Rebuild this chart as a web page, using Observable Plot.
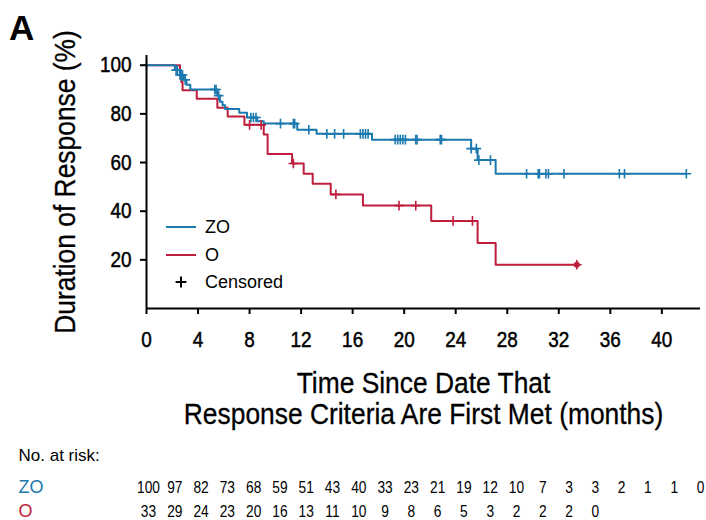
<!DOCTYPE html>
<html><head><meta charset="utf-8">
<script src="https://cdn.jsdelivr.net/npm/d3@7"></script>
<script src="https://cdn.jsdelivr.net/npm/@observablehq/plot@0.6"></script>
<style>
body{margin:0;background:#fff;}
#wrap{width:706px;height:520px;}
#wrap svg{display:block;}
</style></head><body><div id="wrap"></div>
<script>
// ---- data ----
const zoEventTimes = [2.2, 2.6, 2.9, 3.1, 3.4, 5.5, 5.7, 5.9, 6.1, 7.2, 7.8, 8.6, 9.1, 11.7, 13.2, 17.5, 25.2, 25.7, 27.1];
const zoEventSurv  = [98, 96, 94, 92, 90, 87.5, 85, 83.5, 82, 80.5, 78.5, 77, 76, 73.5, 71.8, 69.4, 65.7, 61, 55.4];
const zoCensorTimes = [0, 2.3, 2.4, 2.6, 2.7, 2.8, 3.0, 5.3, 5.4, 5.6, 8.1, 8.3, 8.5, 10.4, 11.4, 11.5, 12.6, 14.0, 14.6, 15.3, 16.6, 16.8, 17.0, 17.2, 19.3, 19.5, 19.7, 19.9, 20.1, 20.9, 21.0, 22.8, 22.9, 25.2, 25.6, 25.8, 26.7, 29.5, 30.4, 30.5, 31.0, 31.2, 32.4, 36.7, 37.1, 41.9];
const oEventTimes = [2.6, 2.7, 2.8, 3.9, 5.5, 6.3, 7.6, 9.1, 9.4, 11.3, 12.2, 12.9, 14.3, 16.8, 22.1, 25.7, 27.1];
const oEventSurv  = [96.6, 93.1, 89.7, 86.2, 82.5, 78.9, 75.5, 71.5, 63.5, 59.6, 55.4, 51.3, 46.9, 42.3, 36.0, 26.9, 18.0];
const oCensorTimes = [8.0, 8.9, 11.4, 14.7, 19.6, 20.9, 23.8, 25.3, 33.4];
const oLastTime = 33.4;

const riskTimes = [0, 2, 4, 6, 8, 10, 12, 14, 16, 18, 20, 22, 24, 26, 28, 30, 32, 34, 36, 38, 40, 42];
const zoRisk = [100, 97, 82, 73, 68, 59, 51, 43, 40, 33, 23, 21, 19, 12, 10, 7, 3, 3, 2, 1, 1, 0];
const oRisk  = [33, 29, 24, 23, 20, 16, 13, 11, 10, 9, 8, 6, 5, 3, 2, 2, 2, 0];
const armNames = ["ZO", "O"];

const xTicks = [0, 4, 8, 12, 16, 20, 24, 28, 32, 36, 40];
const yTicks = [20, 40, 60, 80, 100];

// ---- derived tables ----
const BLUE = "#1b79ae", RED = "#be1e3c";
const FONT = '"Liberation Sans",Arial,Helvetica,sans-serif';

function survAt(times, surv, t) {
  let s = 100;
  for (let i = 0; i < times.length; i++) if (times[i] <= t) s = surv[i];
  return s;
}
function lineData(times, surv, last) {
  const pts = [{t: 0, s: 100}];
  times.forEach((t, i) => pts.push({t, s: surv[i]}));
  pts.push({t: last, s: surv[surv.length - 1]});
  return pts;
}
const zoLast = d3.max(zoCensorTimes);
const zoLine = lineData(zoEventTimes, zoEventSurv, zoLast);
const oLine = lineData(oEventTimes, oEventSurv, oLastTime);
const zoCens = zoCensorTimes.map(t => ({t, s: survAt(zoEventTimes, zoEventSurv, t)}));
const oCens = oCensorTimes.map(t => ({t, s: survAt(oEventTimes, oEventSurv, t)}));
const oEnd = [{t: oLastTime, s: survAt(oEventTimes, oEventSurv, oLastTime)}];

const main = Plot.plot({
  width: 706, height: 446,
  marginTop: 55, marginBottom: 138, marginLeft: 146, marginRight: 6,
  style: {fontFamily: FONT, background: "white", color: "#000"},
  x: {domain: [0, 43]},
  y: {domain: [0, 104]},
  marks: [
    Plot.line(oLine, {x: "t", y: "s", curve: "step-after", stroke: RED, strokeWidth: 2}),
    Plot.line(zoLine, {x: "t", y: "s", curve: "step-after", stroke: BLUE, strokeWidth: 2}),
    Plot.dot(oCens, {x: "t", y: "s", symbol: "plus", r: 3.2, stroke: RED, strokeWidth: 1.6}),
    Plot.dot(oEnd, {x: "t", y: "s", r: 3, fill: RED}),
    Plot.dot(zoCens, {x: "t", y: "s", symbol: "plus", r: 3.2, stroke: BLUE, strokeWidth: 1.6}),
    Plot.ruleX([0], {strokeWidth: 2, stroke: "#000"}),
    Plot.ruleY([0], {strokeWidth: 2, stroke: "#000"}),
    Plot.axisX({ticks: xTicks, tickSize: 6, tickPadding: 17, strokeWidth: 2, fontSize: 22, label: null, stroke: "#000", fill: "#000"}),
    Plot.axisY({ticks: yTicks, tickSize: 6, tickPadding: 9, strokeWidth: 2, fontSize: 22, label: null, stroke: "#000", fill: "#000"}),
    Plot.text(["Duration of Response (%)"], {frameAnchor: "left", textAnchor: "middle", lineAnchor: "middle", rotate: -90, dx: -81, fontSize: 29, fill: "#000"}),
    Plot.text(["Time Since Date That"], {frameAnchor: "bottom", lineAnchor: "middle", dy: 75, fontSize: 29, fill: "#000"}),
    Plot.text(["Response Criteria Are First Met (months)"], {frameAnchor: "bottom", lineAnchor: "middle", dy: 106, fontSize: 29, fill: "#000"})
  ]
});

// risk table
const riskRows = [
  ...zoRisk.map((n, i) => ({t: riskTimes[i], n, arm: "ZO"})),
  ...oRisk.map((n, i) => ({t: riskTimes[i], n, arm: "O"}))
];
const risk = Plot.plot({
  width: 706, height: 74,
  marginLeft: 0, marginRight: 0, marginTop: 0, marginBottom: 0,
  style: {fontFamily: FONT, background: "white"},
  x: {domain: [0, 42], range: [148, 700], axis: null},
  y: {type: "point", domain: armNames, range: [41, 65.5], padding: 0, axis: null},
  color: {domain: armNames, range: [BLUE, RED]},
  marks: [
    Plot.text(riskRows, {x: "t", y: "arm", text: "n", fontSize: 16, fill: "#000"}),
    Plot.text(["No. at risk:"], {frameAnchor: "top-left", lineAnchor: "middle", dx: 18, dy: 9, fontSize: 17, fill: "#000"}),
    Plot.text(armNames, {y: d => d, frameAnchor: "left", dx: 18, textAnchor: "start", fontSize: 18, fill: d => d})
  ]
});

document.getElementById("wrap").append(main, risk);

// panel letter + legend
const svg = d3.select(main);
svg.append("text").attr("x", 9).attr("y", 27).attr("dy", "0.36em").attr("text-anchor", "start")
  .attr("font-family", FONT).attr("font-size", 35).attr("font-weight", "bold").text("A");
const lg = svg.append("g").attr("font-family", FONT).attr("font-size", 18).attr("fill", "#000").attr("text-anchor", "start");
[["ZO", BLUE, 227], ["O", RED, 255]].forEach(([name, c, y]) => {
  lg.append("line").attr("x1", 166).attr("x2", 196).attr("y1", y).attr("y2", y).attr("stroke", c).attr("stroke-width", 2);
  lg.append("text").attr("x", 205).attr("y", y).attr("dy", "0.36em").text(name);
});
lg.append("path").attr("d", d3.symbol(d3.symbolCross2 || d3.symbolPlus, 40)()).attr("transform", "translate(181,282)")
  .attr("stroke", "#000").attr("stroke-width", 2).attr("fill", "none");
lg.append("text").attr("x", 205).attr("y", 282).attr("dy", "0.36em").text("Censored");

// condensed look (reference uses a condensed face)
function condense(nodes, f, bold) {
  nodes.each(function() {
    const tr = this.getAttribute("transform");
    if (tr && !this.hasAttribute("x")) {
      this.setAttribute("transform", tr + ` scale(${f},1)`);
    } else {
      const L = this.getComputedTextLength();
      this.setAttribute("textLength", L * f);
      this.setAttribute("lengthAdjust", "spacingAndGlyphs");
    }
    if (bold) { this.setAttribute("stroke", "#000"); this.setAttribute("stroke-width", bold); }
  });
}
condense(svg.selectAll('g[aria-label="x-axis tick label"] text, g[aria-label="y-axis tick label"] text'), 0.86, 0.5);
condense(svg.selectAll('g[aria-label="text"] text'), 0.91, 0.3);
condense(d3.select(risk).selectAll('g[aria-label="text"] text').filter(function() { return /^\d+$/.test(this.textContent); }), 0.86, 0);
</script>
</body></html>
